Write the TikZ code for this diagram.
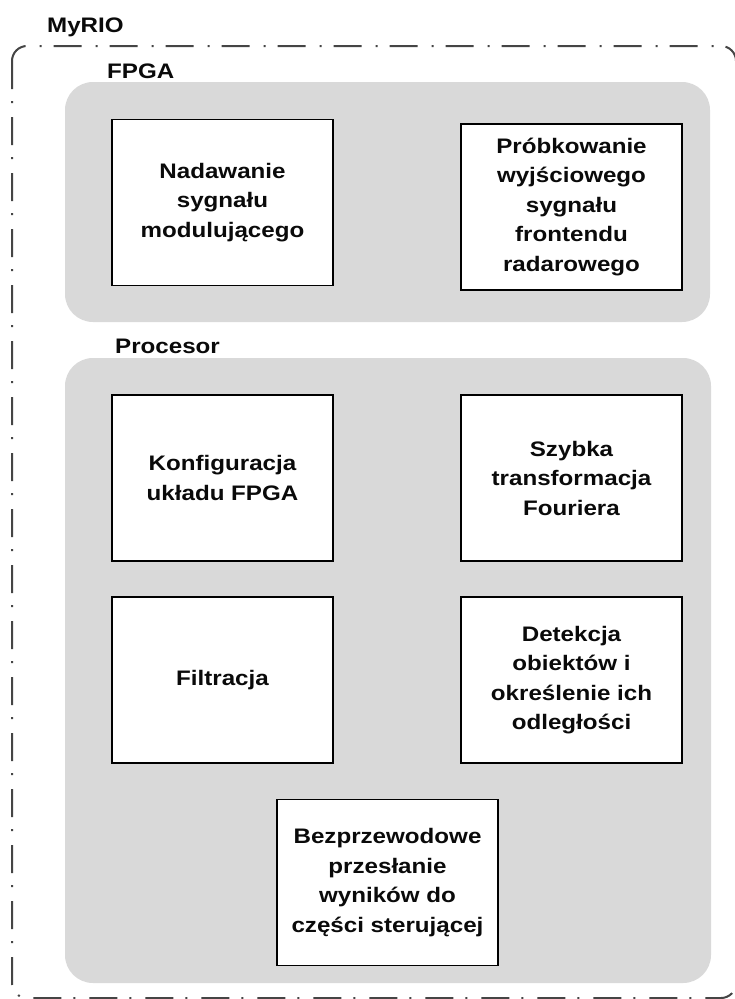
\documentclass[tikz,border=0pt]{standalone}
\usepackage{fontspec}
\setmainfont{Liberation Sans}[FakeStretch=1.15]
\definecolor{panelgray}{HTML}{D9D9D9}
\definecolor{bordergray}{HTML}{454545}
\definecolor{inktext}{HTML}{0A0A0A}
\begin{document}
\begin{tikzpicture}[x=1pt,y=-1pt,
  panel/.style={fill=panelgray, rounded corners=28pt},
  outerframe/.style={draw=bordergray, line width=2pt, rounded corners=15pt,
    dash pattern=on 28pt off 12pt on 2pt off 14pt},
  procbox/.style={draw=black, line width=1.8pt, fill=white,
    minimum width=221pt, minimum height=166pt, inner sep=0pt,
    align=center, text=inktext,
    font=\bfseries\fontsize{21}{29.5}\selectfont},
  grouplabel/.style={anchor=base west, inner sep=0pt, text=inktext,
    font=\bfseries\fontsize{21}{25}\selectfont}]
\useasboundingbox (0,0) rectangle (735,999);
\fill[white] (0,0) rectangle (735,999);
% outer MyRIO frame
\draw[outerframe] (12,46) rectangle (736,998);
\node[grouplabel] (myrio) at (47,32) {MyRIO};
% FPGA panel
\fill[panel] (65,82) rectangle (710,322);
\node[grouplabel] (fpga) at (107,78) {FPGA};
% Procesor panel
\fill[panel] (65,358) rectangle (711,983);
\node[grouplabel] (proc) at (115,353) {Procesor};
% boxes
\node[procbox] (nad) at (222.5,202.5) {Nadawanie\\sygnału\\modulującego};
\node[procbox] (prob) at (571.5,207) {Próbkowanie\\wyjściowego\\sygnału\\frontendu\\radarowego};
\node[procbox] (konf) at (222.5,478) {Konfiguracja\\układu FPGA};
\node[procbox] (fft) at (571.5,478) {Szybka\\transformacja\\Fouriera};
\node[procbox] (filt) at (222.5,680) {Filtracja};
\node[procbox] (det) at (571.5,680) {Detekcja\\obiektów i\\określenie ich\\odległości};
\node[procbox] (bezp) at (387.5,882.5) {Bezprzewodowe\\przesłanie\\wyników do\\części sterującej};
\end{tikzpicture}
\end{document}
